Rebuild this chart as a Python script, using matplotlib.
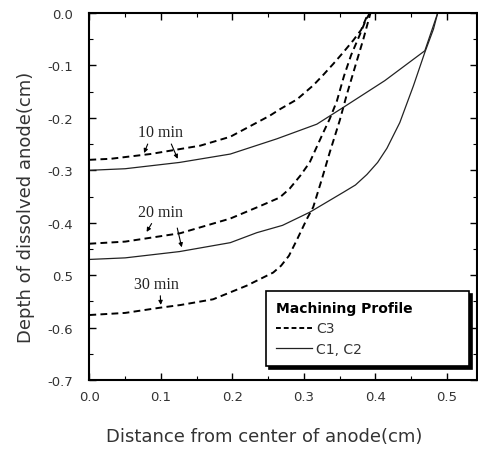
import matplotlib
matplotlib.use('Agg')
from matplotlib import pyplot as plt
from matplotlib.lines import Line2D
from matplotlib.ticker import MultipleLocator

# curves (x in cm, depth in cm)
dash10_x = [0.0, 0.03, 0.085, 0.155, 0.197, 0.252, 0.267, 0.29, 0.313, 0.327, 0.341, 0.355, 0.369, 0.38, 0.39]
dash10_y = [-0.28, -0.278, -0.269, -0.253, -0.236, -0.196, -0.183, -0.165, -0.138, -0.118, -0.097, -0.075, -0.052, -0.032, 0.0]

solid10_x = [0.0, 0.05, 0.126, 0.197, 0.262, 0.318, 0.355, 0.413, 0.469, 0.487]
solid10_y = [-0.30, -0.297, -0.285, -0.269, -0.240, -0.212, -0.180, -0.129, -0.072, 0.0]

dash20_x = [0.0, 0.05, 0.127, 0.197, 0.239, 0.266, 0.28, 0.295, 0.308, 0.327, 0.336, 0.346, 0.356, 0.366, 0.377, 0.386, 0.392]
dash20_y = [-0.44, -0.436, -0.420, -0.392, -0.368, -0.352, -0.335, -0.31, -0.285, -0.228, -0.202, -0.168, -0.12, -0.08, -0.045, -0.015, 0.0]

solid20_x = [0.0, 0.05, 0.126, 0.197, 0.234, 0.27, 0.308, 0.355, 0.372, 0.388, 0.403, 0.416, 0.434, 0.453, 0.469, 0.481, 0.487]
solid20_y = [-0.47, -0.467, -0.455, -0.438, -0.419, -0.405, -0.380, -0.342, -0.328, -0.308, -0.285, -0.258, -0.209, -0.139, -0.075, -0.031, 0.0]

dash30_x = [0.0, 0.05, 0.099, 0.127, 0.173, 0.22, 0.257, 0.268, 0.279, 0.29, 0.304, 0.313, 0.325, 0.336, 0.35, 0.36, 0.372, 0.383, 0.393]
dash30_y = [-0.576, -0.572, -0.562, -0.557, -0.546, -0.520, -0.495, -0.482, -0.463, -0.433, -0.393, -0.370, -0.317, -0.266, -0.205, -0.155, -0.10, -0.05, 0.0]

xticks = [0.0, 0.1, 0.2, 0.3, 0.4, 0.5]
xtick_labels = ['0.0', '0.1', '0.2', '0.3', '0.4', '0.5']
yticks = [0.0, -0.1, -0.2, -0.3, -0.4, -0.5, -0.6, -0.7]
ytick_labels = ['0.0', '-0.1', '-0.2', '-0.3', '-0.4', '0.5', '-0.6', '-0.7']

time_labels = ['10 min', '20 min', '30 min']

dash_style = (0, (3.5, 2.2))
dash_lw = 1.4
solid_lw = 0.9
txt_col = '#333333'

fig = plt.figure(figsize=(4.78, 4.52), dpi=100)
ax = fig.add_axes([0.187, 0.157, 0.811, 0.812])

ax.plot(dash10_x, dash10_y, color='black', lw=dash_lw, linestyle=dash_style)
ax.plot(dash20_x, dash20_y, color='black', lw=dash_lw, linestyle=dash_style)
ax.plot(dash30_x, dash30_y, color='black', lw=dash_lw, linestyle=dash_style)
ax.plot(solid10_x, solid10_y, color='#222222', lw=solid_lw)
ax.plot(solid20_x, solid20_y, color='#222222', lw=solid_lw)

ax.set_xlim(0, 0.542)
ax.set_ylim(-0.7, 0.0)
ax.set_xticks(xticks)
ax.set_xticklabels(xtick_labels)
ax.set_yticks(yticks)
ax.set_yticklabels(ytick_labels)
ax.xaxis.set_minor_locator(MultipleLocator(0.05))
ax.yaxis.set_minor_locator(MultipleLocator(0.05))
ax.tick_params(which='both', direction='in', top=True, right=True, colors='black',
               labelcolor=txt_col, labelsize=9.5)
ax.tick_params(which='major', length=5, width=1.0)
ax.tick_params(which='minor', length=3, width=0.8)
ax.tick_params(axis='y', pad=12)
ax.tick_params(axis='x', pad=7)
for s in ax.spines.values():
    s.set_linewidth(1.5)

# time labels with little arrows
serif = 'Liberation Serif'
ax.text(0.1, -0.227, time_labels[0], ha='center', va='center', fontsize=11.5, family=serif, color='#222222')
ax.text(0.099, -0.38, time_labels[1], ha='center', va='center', fontsize=11.5, family=serif, color='#222222')
ax.text(0.094, -0.517, time_labels[2], ha='center', va='center', fontsize=11.5, family=serif, color='#222222')
arr = dict(arrowstyle='-|>', color='black', lw=0.8, mutation_scale=6)
ax.annotate('', xy=(0.075, -0.272), xytext=(0.083, -0.245), arrowprops=arr)
ax.annotate('', xy=(0.125, -0.283), xytext=(0.113, -0.245), arrowprops=arr)
ax.annotate('', xy=(0.078, -0.422), xytext=(0.089, -0.397), arrowprops=arr)
ax.annotate('', xy=(0.13, -0.452), xytext=(0.122, -0.405), arrowprops=arr)
ax.annotate('', xy=(0.10, -0.562), xytext=(0.099, -0.534), arrowprops=arr)

handles = [Line2D([], [], color='black', lw=dash_lw, linestyle=(0, (2.5, 1.5))),
           Line2D([], [], color='#222222', lw=solid_lw)]
leg = ax.legend(handles, ['C3', 'C1, C2'], title='Machining Profile', loc='lower left',
                bbox_to_anchor=(0.455, 0.038, 0.524, 0.2), mode='expand', borderaxespad=0,
                fancybox=False, edgecolor='black', framealpha=1, borderpad=0.75,
                handlelength=2.6, handletextpad=0.3, labelspacing=0.45,
                fontsize=10, alignment='left',
                title_fontproperties={'weight': 'bold', 'size': 10},
                shadow={'color': 'black', 'alpha': 1})
leg.get_frame().set_linewidth(1.2)
for t in leg.get_texts():
    t.set_color(txt_col)

fig.text(26 / 478, 1 - 207 / 452, 'Depth of dissolved anode(cm)', rotation=90, ha='center', va='center',
         fontsize=13, color=txt_col)
fig.text(264 / 478, 1 - 437 / 452, 'Distance from center of anode(cm)', ha='center', va='center',
         fontsize=13, color=txt_col)

fig.savefig('out.png', dpi=100)
